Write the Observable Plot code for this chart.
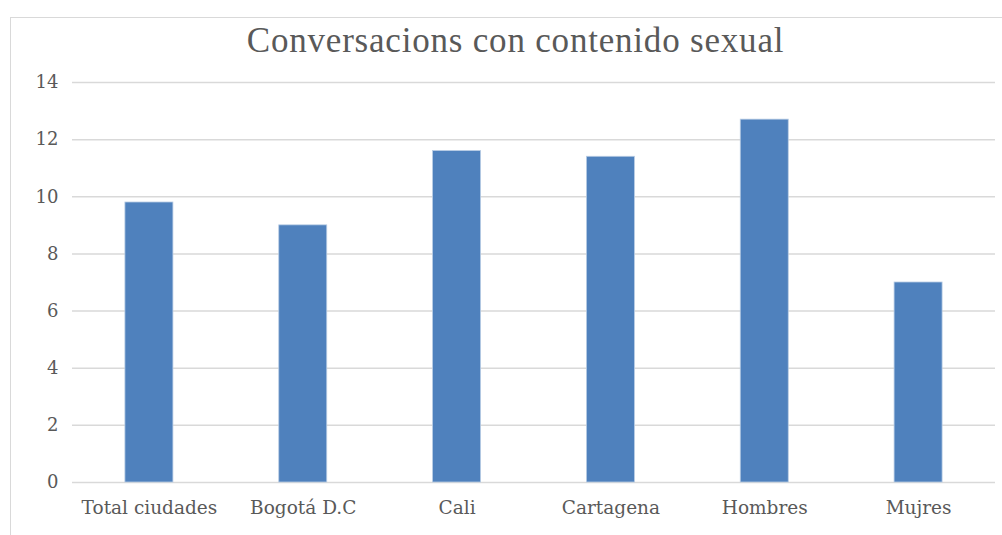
<!DOCTYPE html>
<html>
<head>
<meta charset="utf-8">
<script src="https://cdn.jsdelivr.net/npm/d3@7"></script>
<script src="https://cdn.jsdelivr.net/npm/@observablehq/plot@0.6"></script>
<style>
  html, body { margin: 0; padding: 0; background: #fff; overflow: hidden; }
  #frame { position: absolute; left: 10px; top: 17px; width: 1100px; height: 600px;
           border: 1px solid #d9d9d9; box-sizing: border-box; overflow: hidden; }
  #title { height: 48px; margin: 0; text-align: center; padding-left: 18px;
           font-family: "Liberation Serif", serif; font-size: 35px; letter-spacing: 0.8px; color: #595959;
           line-height: 46px; font-weight: normal; width: 991px; box-sizing: border-box; }
  #chart svg { display: block; }
  #chart g[aria-label="x-axis tick label"] { font-size: 18.5px; }
  #chart g[aria-label="y-axis tick label"] { font-size: 18px; }
</style>
</head>
<body>
<div id="frame">
  <div id="title">Conversacions con contenido sexual</div>
  <div id="chart"></div>
</div>
<script>
const categories = ["Total ciudades", "Bogotá D.C", "Cali", "Cartagena", "Hombres", "Mujres"];
const values = [9.8, 9.0, 11.6, 11.4, 12.7, 7.0];
const yTicks = [0, 2, 4, 6, 8, 10, 12, 14];

const data = categories.map((c, i) => ({category: c, value: values[i]}));

const chart = Plot.plot({
  width: 991,
  height: 469,
  marginTop: 16,
  marginBottom: 53,
  marginLeft: 61,
  marginRight: 7,
  style: {fontFamily: "'DejaVu Serif', serif", fontSize: "18px", color: "#595959", background: "transparent"},
  x: {domain: categories, round: false, paddingInner: 0.688, paddingOuter: 0.344, label: null, tickSize: 0, tickPadding: 18},
  y: {domain: [0, 14], ticks: yTicks, label: null, tickSize: 0, tickPadding: 14},
  marks: [
    Plot.gridY(yTicks, {stroke: "#d9d9d9", strokeOpacity: 1, strokeWidth: 1.5}),
    Plot.barY(data, {x: "category", y: "value", fill: "#4f81bd", stroke: "#b8cce4", strokeWidth: 0.8})
  ]
});
document.getElementById("chart").appendChild(chart);
</script>
</body>
</html>
